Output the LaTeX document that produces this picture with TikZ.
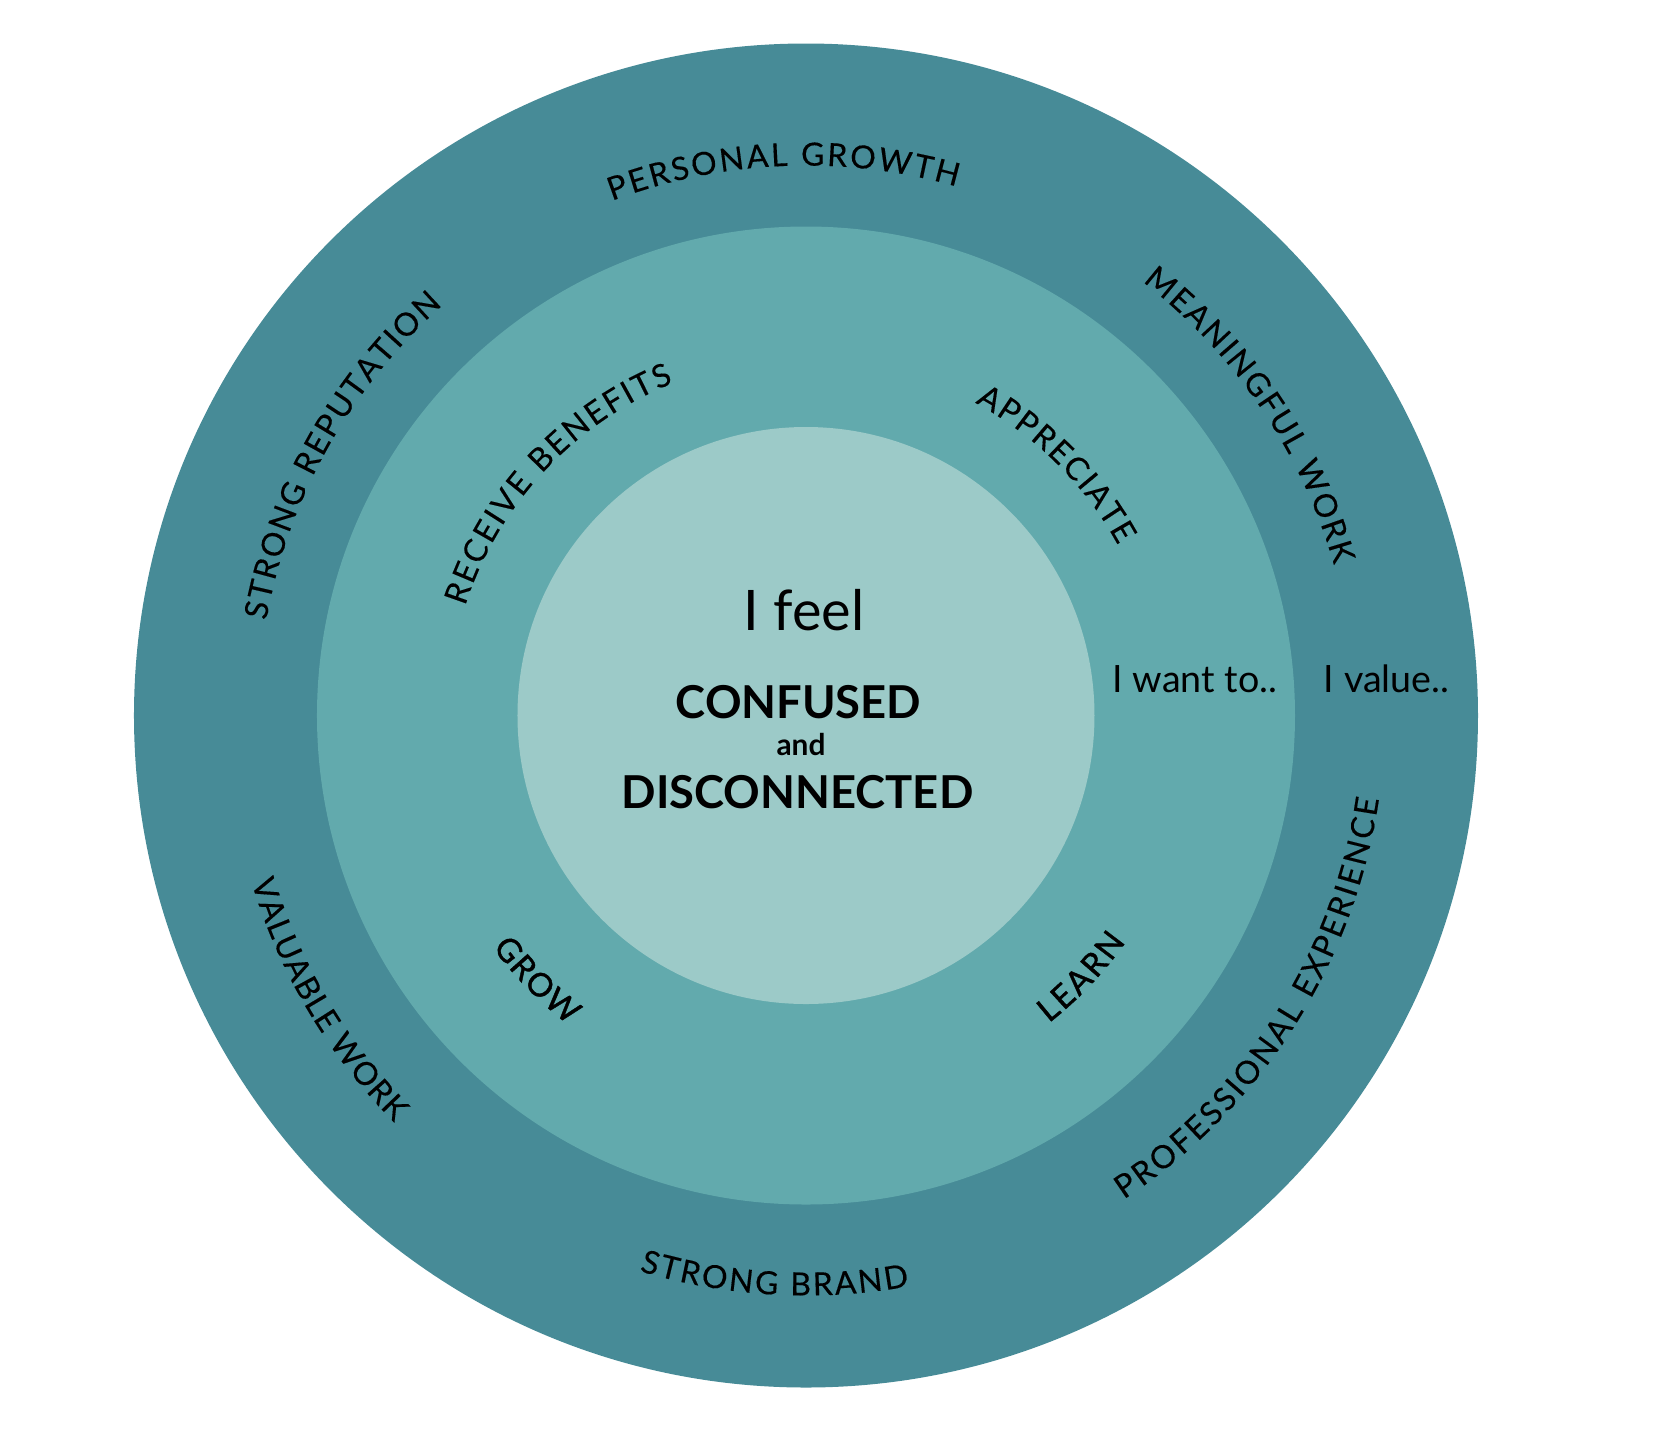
\documentclass[tikz,border=0pt]{standalone}
\usepackage{fontspec}
\setmainfont{Lato}
\newfontfamily\stepfamily[FakeBold=1.2]{Lato}
\newfontfamily\ringfamily[FakeBold=0.3]{Lato}
\usetikzlibrary{decorations.text}
\definecolor{outerteal}{HTML}{478B97}
\definecolor{midteal}{HTML}{62AAAD}
\definecolor{innerteal}{HTML}{9CCAC8}
\newcommand{\ringfont}{\ringfamily\fontsize{9.1}{10}\selectfont}
\newcommand{\stepfont}{\stepfamily\fontsize{9.3}{10}\selectfont}
\begin{document}
\begin{tikzpicture}[
  ringlabel/.style={decorate,decoration={text along path,text align=fit to path,text={|\ringfont|#1}}},
  steplabel/.style={decorate,decoration={text along path,text align=fit to path,text={|\stepfont|#1}}}]
\useasboundingbox (-8.06,-7.265) rectangle (8.48,7.155);
% rings
\fill[outerteal] (0,0) circle (6.72);
\fill[midteal] (0,0) circle (4.89);
\fill[innerteal] (0,0) circle (2.885);
% outer ring
\path[ringlabel=PERSONAL GROWTH] (110.65:5.5) arc[start angle=110.65,end angle=74.1,radius=5.5];
\path[ringlabel=MEANINGFUL WORK] (52.2:5.49) arc[start angle=52.2,end angle=15.9,radius=5.49];
\path[ringlabel=STRONG REPUTATION] (170:5.48) arc[start angle=170,end angle=131.5,radius=5.48];
\path[ringlabel=VALUABLE WORK] (196.7:5.79) arc[start angle=196.7,end angle=224.7,radius=5.79];
\path[ringlabel=STRONG BRAND] (253.3:5.8) arc[start angle=253.3,end angle=280.3,radius=5.8];
\path[ringlabel=PROFESSIONAL EXPERIENCE] (-56.7:5.79) arc[start angle=-56.7,end angle=-8.3,radius=5.79];
\node[anchor=base] (value) at (5.805,0.235) {\fontsize{10.7}{12}\selectfont I value..};
% middle ring
\path[ringlabel=RECEIVE BENEFITS] (162.2:3.58) arc[start angle=162.2,end angle=111.7,radius=3.58];
\path[ringlabel=APPRECIATE] (61.6:3.555) arc[start angle=61.6,end angle=28.6,radius=3.555];
\path[steplabel=GROW] (216.5:3.9) arc[start angle=216.5,end angle=232.5,radius=3.9];
\path[steplabel=LEARN] (-51.7:3.92) arc[start angle=-51.7,end angle=-35.3,radius=3.92];
\node[anchor=base] (wantto) at (3.89,0.235) {\fontsize{10.7}{12}\selectfont I want to..};
% centre
\node[anchor=base] (feel) at (-0.02,0.855) {\fontsize{15.9}{18}\selectfont I feel};
\node[anchor=base] (confused) at (-0.075,-0.025) {\fontsize{12.9}{15}\selectfont\bfseries CONFUSED};
\node[anchor=base] (and) at (-0.05,-0.395) {\fontsize{8.5}{10}\selectfont\bfseries and};
\node[anchor=base] (disconnected) at (-0.085,-0.925) {\fontsize{12.9}{15}\selectfont\bfseries DISCONNECTED};
\end{tikzpicture}
\end{document}
